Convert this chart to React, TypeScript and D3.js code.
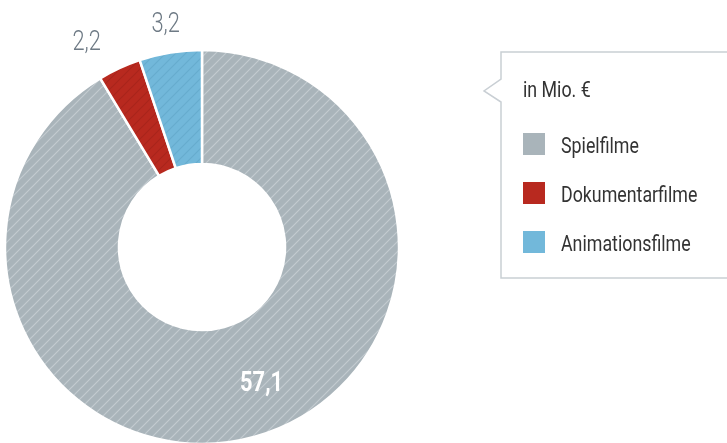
import React from "react";
import * as d3 from "d3";

const categories = ["Spielfilme", "Dokumentarfilme", "Animationsfilme"];
const values = [57.1, 2.2, 3.2];
const valueLabels = ["57,1", "2,2", "3,2"];
const baseColors = ["#a9b4ba", "#b8291f", "#72b8da"];
const stripeColors = ["#c3cbd0", "#a9231a", "#66acce"];
const labelColors = ["#ffffff", "#6e7a85", "#6e7a85"];
const labelWeights = [700, 300, 300];
const unitLabel = "in Mio. €";

const W = 727;
const H = 443;
const cx = 202;
const cy = 247;
const R = 197;
const r = 83;
const FONT = "Roboto, 'Liberation Sans', sans-serif";
const SX = 0.81;
const T = 10;

export default function App() {
  const pie = d3.pie<number>().sort(null).value((d) => d);
  const arcs = pie(values);
  const arc = d3.arc<d3.PieArcDatum<number>>().innerRadius(r).outerRadius(R);
  const outerLabelArc = d3.arc<d3.PieArcDatum<number>>().innerRadius(227).outerRadius(227);
  const innerLabelArc = d3.arc<d3.PieArcDatum<number>>().innerRadius(142).outerRadius(142);

  const legendY = d3.scaleBand<string>().domain(categories).range([128, 275]).paddingInner(0);

  const box = d3.path();
  box.moveTo(W + 5, 52);
  box.lineTo(501, 52);
  box.lineTo(501, 79);
  box.lineTo(484, 91);
  box.lineTo(501, 102);
  box.lineTo(501, 278);
  box.lineTo(W + 5, 278);

  const sText = (x: number, y: number, content: string, props: any, key?: string) => (
    <text key={key} transform={`translate(${x},${y}) scale(${SX},1)`} fontFamily={FONT} {...props}>
      {content}
    </text>
  );

  return (
    <div style={{ position: "fixed", left: 0, top: 0, width: W, height: H }}>
      <svg width={W} height={H} style={{ display: "block" }}>
        <defs>
          {categories.map((c, i) => (
            <pattern key={c} id={`hatch${i}`} patternUnits="userSpaceOnUse" width={T} height={T}>
              <rect width={T} height={T} fill={baseColors[i]} />
              <path d={`M-1,1 L1,-1 M0,${T} L${T},0 M${T - 1},${T + 1} L${T + 1},${T - 1}`} stroke={stripeColors[i]} strokeWidth={1.2} />
            </pattern>
          ))}
        </defs>
        <g transform={`translate(${cx},${cy})`}>
          {arcs.map((a, i) => (
            <path key={categories[i]} d={arc(a) || ""} fill={`url(#hatch${i})`} stroke="#ffffff" strokeWidth={2.5} strokeLinejoin="miter" />
          ))}
          {arcs.map((a, i) => {
            const inner = i === 0;
            const [x, y] = (inner ? innerLabelArc : outerLabelArc).centroid(a);
            const mid = (a.startAngle + a.endAngle) / 2;
            const s = Math.sin(mid);
            const anchor = s > 0.2 ? "start" : s < -0.2 ? "end" : "middle";
            return sText(
              x + (anchor === "end" ? -6 : 0),
              y + (inner ? 7 : 9),
              valueLabels[i],
              {
                textAnchor: anchor,
                fill: labelColors[i],
                fontWeight: labelWeights[i],
                fontSize: 27,
              },
              "l" + i
            );
          })}
        </g>
        <path d={box.toString()} fill="#ffffff" stroke="#c9cfd4" strokeWidth={1.5} />
        {sText(523, 97, unitLabel, { fontSize: 22, fill: "#333333", fontWeight: 400 })}
        {categories.map((c, i) => {
          const y0 = legendY(c)! + 5;
          return (
            <g key={"lg" + c}>
              <rect x={523} y={y0} width={22} height={22} fill={baseColors[i]} />
              {sText(561, y0 + 20, c, { fontSize: 22, fill: "#333333", fontWeight: 400 })}
            </g>
          );
        })}
      </svg>
    </div>
  );
}
